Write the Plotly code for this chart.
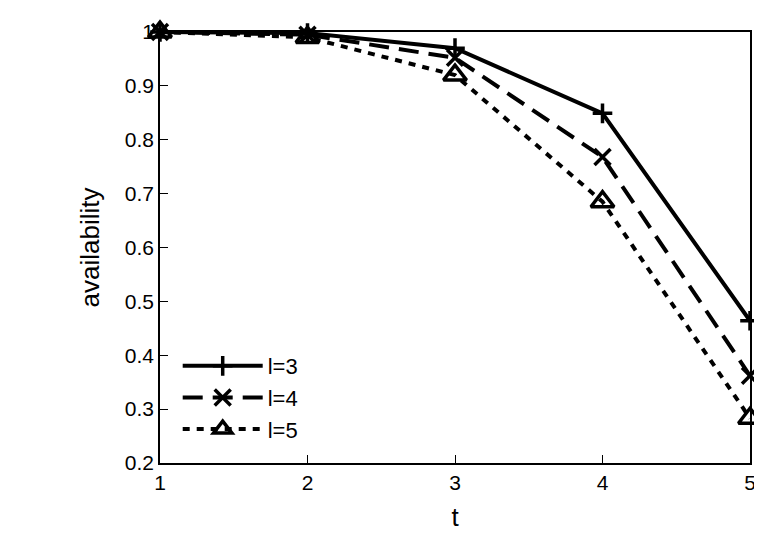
import plotly.graph_objects as go

t = [1, 2, 3, 4, 5]
l3 = [1.0, 0.998, 0.97, 0.849, 0.464]
l4 = [1.0, 0.995, 0.952, 0.768, 0.362]
l5 = [1.0, 0.99, 0.92, 0.685, 0.283]
names = ["l=3", "l=4", "l=5"]

fig = go.Figure()
specs = [(l3, "solid", "cross-thin", 14), (l4, "20px,10px", "x-thin", 16), (l5, "7px,7px", "triangle-up-open", 20)]
for n, (y, dash, sym, sz) in zip(names, specs):
    fig.add_trace(go.Scatter(x=t, y=y, name=n, mode="lines+markers", cliponaxis=False,
                             line=dict(color="black", width=4, dash=dash),
                             marker=dict(symbol=sym, size=sz, color="black",
                                         line=dict(width=3.5, color="black"))))

fig.update_layout(
    width=762, height=557, plot_bgcolor="white", paper_bgcolor="white",
    margin=dict(l=152, r=20, t=21, b=102),
    font=dict(family="Liberation Sans, Arial, sans-serif", size=21, color="black"),
    legend=dict(x=0.03, y=0.03, xanchor="left", yanchor="bottom", bgcolor="rgba(0,0,0,0)",
                font=dict(size=22), itemwidth=80, tracegroupgap=0),
    xaxis=dict(title=dict(text="t", font=dict(size=26)), range=[1, 5], tickvals=t,
               showline=True, mirror=True, linecolor="black", linewidth=1.5,
               ticks="inside", ticklen=8, tickcolor="black", showgrid=False, zeroline=False),
    yaxis=dict(title=dict(text="availability", font=dict(size=26), standoff=18), range=[0.2, 1],
               tickvals=[0.2, 0.3, 0.4, 0.5, 0.6, 0.7, 0.8, 0.9, 1],
               ticktext=["0.2", "0.3", "0.4", "0.5", "0.6", "0.7", "0.8", "0.9", "1"],
               showline=True, mirror=True, linecolor="black", linewidth=1.5,
               ticks="inside", ticklen=8, tickcolor="black", showgrid=False, zeroline=False),
)
fig.write_html("out.html")
